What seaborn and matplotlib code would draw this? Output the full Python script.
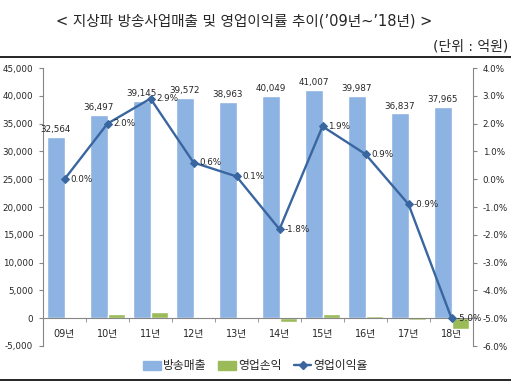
import seaborn as sns
import matplotlib.pyplot as plt
import matplotlib.lines as mlines
import matplotlib.patches as mpatches
from matplotlib.ticker import FuncFormatter, FixedLocator
import pandas as pd

# data
years = ['09년', '10년', '11년', '12년', '13년', '14년', '15년', '16년', '17년', '18년']
sales = [32564, 36497, 39145, 39572, 38963, 40049, 41007, 39987, 36837, 37965]   # 방송매출 (억원)
profit = [0, 730, 1150, 240, 40, -720, 780, 360, -330, -2000]                     # 영업손익 (억원)
margin = [0.0, 2.0, 2.9, 0.6, 0.1, -1.8, 1.9, 0.9, -0.9, -5.0]                     # 영업이익율 (%)

blue = '#8DB3E2'
green = '#9BBB59'
line_c = '#3A66A0'
axis_c = '#868686'

sns.set_style('white')
# digits in DejaVu (wide, like the original), hangul falls back to Noto CJK
plt.rcParams['font.family'] = ['DejaVu Sans', 'Noto Sans CJK KR']

df = pd.DataFrame({'year': years * 2,
                   'value': sales + profit,
                   'series': ['방송매출'] * 10 + ['영업손익'] * 10})

fig = plt.figure(figsize=(5.11, 3.92), dpi=100)
ax = fig.add_axes([43 / 511, 1 - 346 / 392, 430 / 511, 278 / 392])

sns.barplot(data=df, x='year', y='value', hue='series', palette=[blue, green],
            width=0.8, ax=ax, legend=False, saturation=1)
ax.set_xlim(-0.5, 9.5)
ax.set_ylim(-5000, 45000)
ax.set_yticks(range(-5000, 45001, 5000))
ax.yaxis.set_major_formatter(FuncFormatter(lambda v, p: f'{v:,.0f}'))
ax.set_xlabel('')
ax.set_ylabel('')
ax.tick_params(axis='y', labelsize=6.3, length=3, color=axis_c, direction='out', pad=4, left=True)
ax.tick_params(axis='x', labelsize=7, length=0, pad=8)
ax.xaxis.set_minor_locator(FixedLocator([i + 0.5 for i in range(-1, 10)]))
ax.tick_params(axis='x', which='minor', length=3, color=axis_c, direction='out', bottom=True)
for s in ['top', 'right']:
    ax.spines[s].set_visible(False)
ax.spines['left'].set_color(axis_c)
ax.spines['bottom'].set_color(axis_c)
ax.spines['bottom'].set_position(('data', 0))

ax.bar_label(ax.containers[0], labels=[f'{v:,}' for v in sales], fontsize=6.3, padding=2)

ax2 = ax.twinx()
sns.lineplot(x=list(range(10)), y=margin, ax=ax2, color=line_c, linewidth=1.7,
             marker='D', markersize=4.5, markeredgecolor=line_c)
ax2.set_ylim(-6, 4)
ax2.set_yticks(range(-6, 5))
ax2.yaxis.set_major_formatter(FuncFormatter(lambda v, p: f'{v:.1f}%'))
ax2.tick_params(axis='y', labelsize=6.3, length=3, color=axis_c, direction='out', pad=4, right=True)
for s in ['top', 'left', 'bottom']:
    ax2.spines[s].set_visible(False)
ax2.spines['right'].set_color(axis_c)
for i, m in enumerate(margin):
    ax2.annotate(f'{m:.1f}%', (i, m), xytext=(4, 0), textcoords='offset points',
                 fontsize=6.3, va='center', ha='left')

fig.text(244 / 511, 1 - 21 / 392, "< 지상파 방송사업매출 및 영업이익률 추이(’09년~’18년) >",
         ha='center', va='center', fontsize=10.5)
fig.text(508 / 511, 1 - 46 / 392, '(단위 : 억원)', ha='right', va='center', fontsize=10)
fig.add_artist(mlines.Line2D([0, 1], [1 - 57 / 392, 1 - 57 / 392], color='black', lw=1.2))
fig.add_artist(mlines.Line2D([0, 1], [1 - 380 / 392, 1 - 380 / 392], color='black', lw=1.2))

handles = [mpatches.Patch(color=blue, label='방송매출'),
           mpatches.Patch(color=green, label='영업손익'),
           mlines.Line2D([], [], color=line_c, lw=1.7, marker='D', markersize=4, label='영업이익율')]
fig.legend(handles=handles, loc='center', bbox_to_anchor=(0.5, 1 - 366 / 392), ncol=3,
           frameon=False, fontsize=8.5, handlelength=1.5, handleheight=0.7,
           handletextpad=0.2, columnspacing=1.0)

fig.savefig('out.png', dpi=100)
